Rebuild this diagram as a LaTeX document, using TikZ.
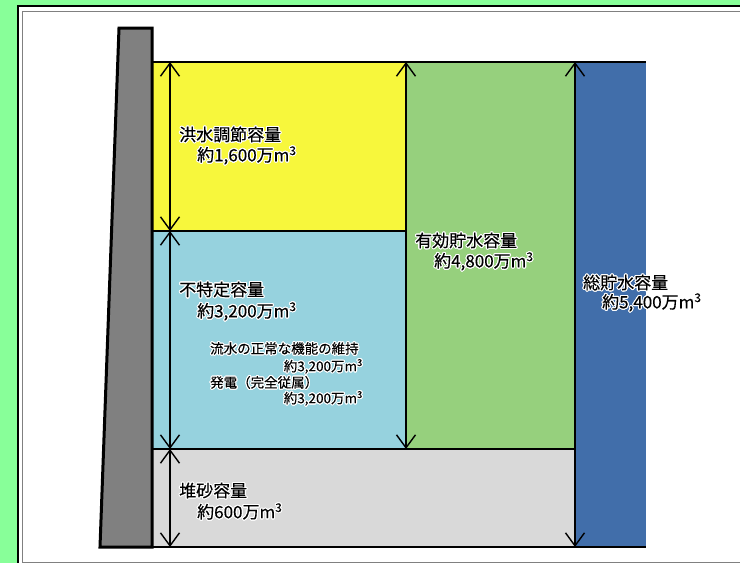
\documentclass[tikz,border=0pt]{standalone}
\usepackage{fontspec}
\setmainfont{Noto Sans CJK JP}[FakeBold=0.3]
\usepackage{contour}
\contourlength{1.1pt}
\usetikzlibrary{arrows.meta}
\definecolor{bggreen}{RGB}{136,255,153}
\definecolor{damgray}{RGB}{128,128,128}
\definecolor{flood}{RGB}{247,247,60}
\definecolor{unspec}{RGB}{150,210,222}
\definecolor{effect}{RGB}{150,208,125}
\definecolor{sediment}{RGB}{217,217,217}
\definecolor{total}{RGB}{65,110,170}
\newcommand{\hl}[1]{\contour{white}{#1}}
\newcommand{\mcube}{m\textsuperscript{3}}
\begin{document}
\begin{tikzpicture}[x=1pt,y=-1pt,
  dim/.style={line width=1.4pt,
    {Straight Barb[length=13pt,width=19pt,line width=1.4pt]}-{Straight Barb[length=13pt,width=19pt,line width=1.4pt]}},
  zoneline/.style={line width=2.2pt},
  lbl/.style={font=\fontsize{17}{20}\selectfont, anchor=west, inner sep=0pt},
  sml/.style={font=\fontsize{13.5}{16}\selectfont, inner sep=0pt}]
\useasboundingbox (0,0) rectangle (740,563);
% background and frame
\fill[bggreen] (0,0) rectangle (740,563);
\draw[line width=2pt, fill=white] (18,6) rectangle (760,590);
\draw[gray, line width=1pt] (22.5,11) rectangle (755,562);
% zones
\fill[flood] (152,62) rectangle (406,231);
\fill[unspec] (152,231) rectangle (406,449);
\fill[effect] (406,62) rectangle (575,449);
\fill[sediment] (152,449) rectangle (575,547);
\fill[total] (575,62) rectangle (646,547);
% zone border lines
\coordinate (topL) at (152,62);
\coordinate (topR) at (646,62);
\coordinate (botL) at (152,547);
\coordinate (botR) at (646,547);
\coordinate (midL) at (152,231);
\coordinate (midR) at (406,231);
\coordinate (lowL) at (152,449);
\coordinate (lowR) at (575,449);
\draw[zoneline] (topL) -- (topR);
\draw[zoneline] (botL) -- (botR);
\draw[zoneline] (midL) -- (midR);
\draw[zoneline] (lowL) -- (lowR);
% dam body
\draw[line width=3pt, fill=damgray, line join=miter] (119,28) -- (152,28) -- (152,547) -- (100,547) -- cycle;
% dimension arrows
\coordinate (a1) at (170,62);
\coordinate (a2) at (170,231);
\coordinate (a3) at (170,449);
\coordinate (a4) at (170,547);
\coordinate (b1) at (406,62);
\coordinate (b2) at (406,449);
\coordinate (c1) at (575,62);
\coordinate (c2) at (575,547);
\draw[dim] (a1) -- (a2);
\draw[dim] (a2) -- (a3);
\draw[dim] (a3) -- (a4);
\draw[dim] (b1) -- (b2);
\draw[dim] (c1) -- (c2);
% labels
\node[lbl] (t1) at (179,135) {\hl{洪水調節容量}};
\node[lbl] (t1v) at (197,156) {\hl{約1,600万\mcube}};
\node[lbl] (t2) at (179,290) {\hl{不特定容量}};
\node[lbl] (t2v) at (197,312) {\hl{約3,200万\mcube}};
\node[sml, anchor=west] (s1) at (210,349) {\hl{流水の正常な機能の維持}};
\node[sml, anchor=east] (s1v) at (363,367) {\hl{約3,200万\mcube}};
\node[sml, anchor=west] (s2) at (210,383) {\hl{発電（完全従属）}};
\node[sml, anchor=east] (s2v) at (363,399) {\hl{約3,200万\mcube}};
\node[lbl] (t3) at (415,241) {\hl{有効貯水容量}};
\node[lbl] (t3v) at (434,262) {\hl{約4,800万\mcube}};
\node[lbl] (t4) at (583,283) {\hl{総貯水容量}};
\node[lbl] (t4v) at (602,303) {\hl{約5,400万\mcube}};
\node[lbl] (t5) at (179,491) {\hl{堆砂容量}};
\node[lbl] (t5v) at (197,512) {\hl{約600万\mcube}};
\end{tikzpicture}
\end{document}
